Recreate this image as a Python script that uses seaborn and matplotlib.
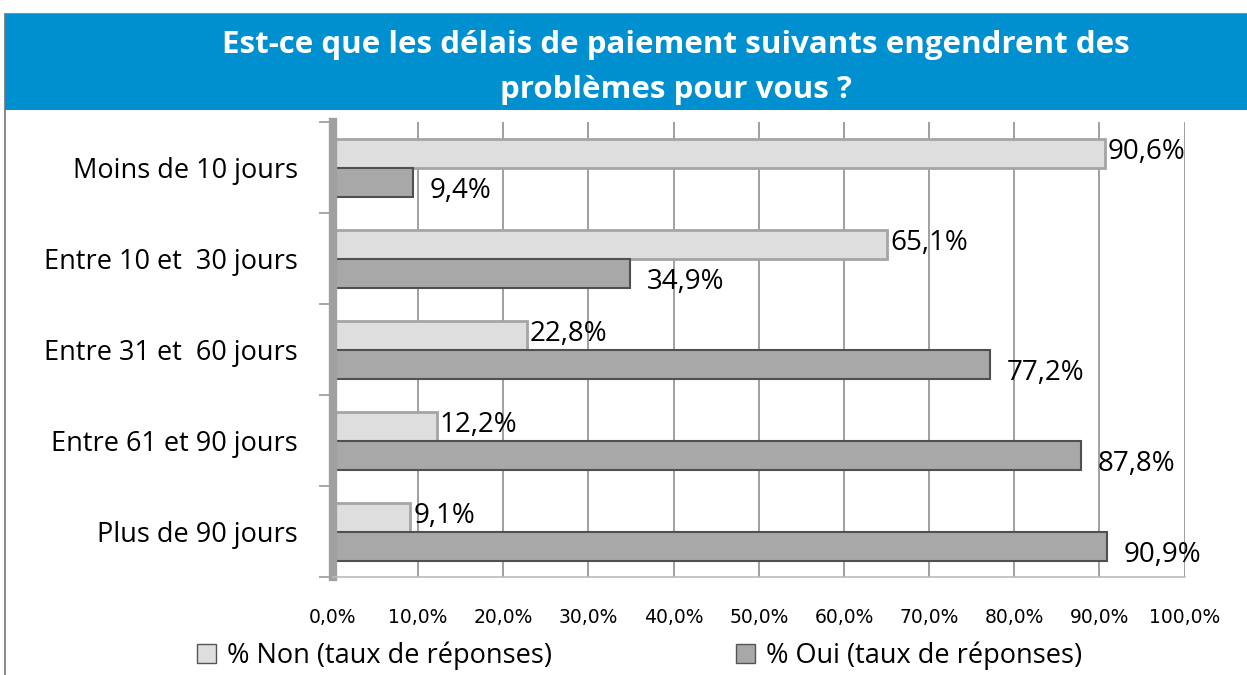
import pandas as pd
import matplotlib.pyplot as plt
from matplotlib.patches import Rectangle
import seaborn as sns

categories = ['Moins de 10 jours', 'Entre 10 et  30 jours', 'Entre 31 et  60 jours',
              'Entre 61 et 90 jours', 'Plus de 90 jours']
non_values = [90.6, 65.1, 22.8, 12.2, 9.1]
oui_values = [9.4, 34.9, 77.2, 87.8, 90.9]
series_names = ['% Non (taux de réponses)', '% Oui (taux de réponses)']
x_ticks = [0, 10, 20, 30, 40, 50, 60, 70, 80, 90, 100]
title = 'Est-ce que les délais de paiement suivants engendrent des\nproblèmes pour vous ?'

df = pd.DataFrame({
    'cat': categories * 2,
    'val': non_values + oui_values,
    'serie': [series_names[0]] * 5 + [series_names[1]] * 5,
})

sns.set_theme(style='white')
plt.rcParams['font.family'] = ['Open Sans', 'DejaVu Sans']

fig = plt.figure(figsize=(12.47, 6.75), dpi=100)
ax = fig.add_axes([0.267, 0.145, 0.683, 0.674])

sns.barplot(data=df, y='cat', x='val', hue='serie', orient='h', ax=ax,
            palette=['#DEDEDE', '#A8A8A8'], width=0.64, saturation=1, errorbar=None)

# bar edges
for patch in ax.containers[0]:
    patch.set_edgecolor('#A5A5A5')
    patch.set_linewidth(2)
for patch in ax.containers[1]:
    patch.set_edgecolor('#505050')
    patch.set_linewidth(1.5)

# value labels
for i, cont in enumerate(ax.containers):
    for patch in cont:
        v = patch.get_width()
        y = patch.get_y() + patch.get_height() / 2
        if i == 0:
            off = (2, 1)
        else:
            off = (12, -6)
        ax.annotate(f'{v:.1f}%'.replace('.', ','), xy=(v, y), xytext=off,
                    textcoords='offset points', ha='left', va='center',
                    fontsize=20, color='black')

ax.set_xlim(0, 100)
ax.set_ylim(4.5, -0.5)
ax.set_xticks(x_ticks)
ax.set_xticklabels([f'{t:.1f}%'.replace('.', ',') for t in x_ticks],
                   fontsize=13.5, color='black',
                   family=['Liberation Sans Narrow', 'DejaVu Sans'])
ax.set_xlabel('')
ax.set_ylabel('')
ax.tick_params(axis='y', labelsize=19.5, labelcolor='black', length=0, pad=25)
ax.tick_params(axis='x', length=14, color='#999999', width=1.2, pad=8, direction='out')
ax.set_yticks(range(len(categories)), minor=False)
ax.set_yticks([-0.5, 0.5, 1.5, 2.5, 3.5, 4.5], minor=True)
ax.tick_params(axis='y', which='minor', length=10, color='#999999', width=1.2, left=True)

ax.grid(axis='x', color='#999999', linewidth=1.3)
ax.set_axisbelow(True)
for s in ['top', 'right']:
    ax.spines[s].set_visible(False)
ax.spines['left'].set_color('#A0A0A0')
ax.spines['left'].set_linewidth(6)
ax.spines['bottom'].set_color('#BBBBBB')
ax.spines['bottom'].set_linewidth(1.2)

handles, labels = ax.get_legend_handles_labels()
ax.legend_.remove()
for h in handles:
    h.set_edgecolor('#555555')
    h.set_linewidth(1)
fig.legend(handles, labels, loc='lower center', bbox_to_anchor=(0.513, -0.028), ncol=2,
           frameon=False, fontsize=19.5, columnspacing=6.8, handlelength=0.7,
           handleheight=0.7, handletextpad=0.4, labelcolor='black')

# frame and title banner
fig.patches.append(Rectangle((0.004, -0.01), 1.0, 0.989, transform=fig.transFigure,
                             facecolor='none', edgecolor='#8C8C8C', linewidth=1.5))
fig.patches.append(Rectangle((0.004, 0.837), 1.0, 0.142, transform=fig.transFigure,
                             facecolor='#0090D0', edgecolor='none'))
fig.text(0.542, 0.9, title, ha='center', va='center', color='white', fontsize=22.5,
         fontweight='bold', linespacing=1.65,
         family=['Liberation Sans Narrow', 'Open Sans', 'DejaVu Sans'])

fig.savefig('out.png', dpi=100)
